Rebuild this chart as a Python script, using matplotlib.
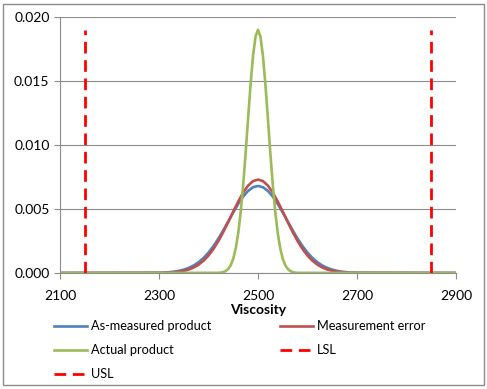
import matplotlib
matplotlib.use("Agg")
import matplotlib.pyplot as plt
import numpy as np
from matplotlib.patches import Rectangle

plt.rcParams["font.family"] = ["Lato", "DejaVu Sans"]

# ── data ───────────────────────────────────────────────────────────────────
x_wide = [2100] + list(range(2300, 2701, 10)) + [2900]
as_measured = [0.0,
    0.0000205, 0.0000361, 0.0000617, 0.000103, 0.000166, 0.000260, 0.000396,
    0.000585, 0.000841, 0.001175, 0.001593, 0.002099, 0.002686, 0.003340,
    0.004033, 0.004731, 0.005391, 0.005967, 0.006416, 0.006702, 0.006800,
    0.006702, 0.006416, 0.005967, 0.005391, 0.004731, 0.004033, 0.003340,
    0.002686, 0.002099, 0.001593, 0.001175, 0.000841, 0.000585, 0.000396,
    0.000260, 0.000166, 0.000103, 0.0000617, 0.0000361, 0.0000205,
    0.0]
meas_error = [0.0,
    0.0000089, 0.0000171, 0.0000319, 0.0000573, 0.0000997, 0.000168, 0.000273,
    0.000429, 0.000652, 0.000959, 0.001364, 0.001876, 0.002495, 0.003209,
    0.003991, 0.004800, 0.005582, 0.006277, 0.006826, 0.007179, 0.007300,
    0.007179, 0.006826, 0.006277, 0.005582, 0.004800, 0.003991, 0.003209,
    0.002495, 0.001876, 0.001364, 0.000959, 0.000652, 0.000429, 0.000273,
    0.000168, 0.0000997, 0.0000573, 0.0000319, 0.0000171, 0.0000089,
    0.0]

x_narrow = [2100] + list(range(2420, 2581, 5)) + [2900]
actual = [0.0,
    0.0000134, 0.0000323, 0.0000735, 0.000158, 0.000321, 0.000615, 0.001116,
    0.001913, 0.003096, 0.004738, 0.006848, 0.009354, 0.012073, 0.014722,
    0.016963, 0.018469, 0.019000,
    0.018469, 0.016963, 0.014722, 0.012073, 0.009354, 0.006848, 0.004738,
    0.003096, 0.001913, 0.001116, 0.000615, 0.000321, 0.000158, 0.0000735,
    0.0000323, 0.0000134,
    0.0]

spec_names = ["LSL", "USL"]
spec_x = [2150, 2850]
spec_top = 0.019

x_ticks = [2100, 2300, 2500, 2700, 2900]
y_ticks = [0.000, 0.005, 0.010, 0.015, 0.020]

BLUE = "#4F81BD"
RED = "#C0504D"
GREEN = "#9BBB59"
GRID = "#8C8C8C"

fig = plt.figure(figsize=(4.87, 3.89), dpi=100)
ax = fig.add_axes([0.1232, 0.2982, 0.8131, 0.6581])

l_meas, = ax.plot(x_wide, as_measured, color=BLUE, lw=1.9, label="As-measured product")
l_err, = ax.plot(x_wide, meas_error, color=RED, lw=1.9, label="Measurement error")
l_act, = ax.plot(x_narrow, actual, color=GREEN, lw=1.9, label="Actual product")
spec_lines = []
for name, sx in zip(spec_names, spec_x):
    ln, = ax.plot([sx, sx], [0, spec_top], color="#FF0000", lw=2.0,
                  dashes=(4.2, 2.4), label=name)
    spec_lines.append(ln)

ax.set_xlim(2100, 2900)
ax.set_ylim(0, 0.020)
ax.set_xticks(x_ticks)
ax.set_yticks(y_ticks)
ax.set_yticklabels([f"{v:.3f}" for v in y_ticks])
ax.grid(axis="y", color=GRID, lw=0.8)
ax.set_axisbelow(True)
for s in ["top", "right"]:
    ax.spines[s].set_visible(False)
for s in ["left", "bottom"]:
    ax.spines[s].set_color(GRID)
    ax.spines[s].set_linewidth(0.8)
ax.tick_params(colors=GRID, labelcolor="black", labelsize=10, length=4, width=0.8)
ax.tick_params(axis="x", pad=8)
ax.set_xlabel("Viscosity", fontsize=10, fontweight="bold", labelpad=2)

handles = [l_meas, l_act, spec_lines[1], l_err, spec_lines[0]]
fig.legend(handles, [h.get_label() for h in handles], ncol=2,
           loc="upper left", bbox_to_anchor=(0.1, 0.19), frameon=False,
           fontsize=9.2, handlelength=2.6, handletextpad=0.3,
           columnspacing=5.4, labelspacing=0.95, borderaxespad=0)

fig.add_artist(Rectangle((3 / 487, 4 / 389), 481 / 487, 381 / 389,
                         transform=fig.transFigure, fill=False,
                         edgecolor="#8C8C8C", lw=1.0))

fig.savefig("out.png", dpi=100)
